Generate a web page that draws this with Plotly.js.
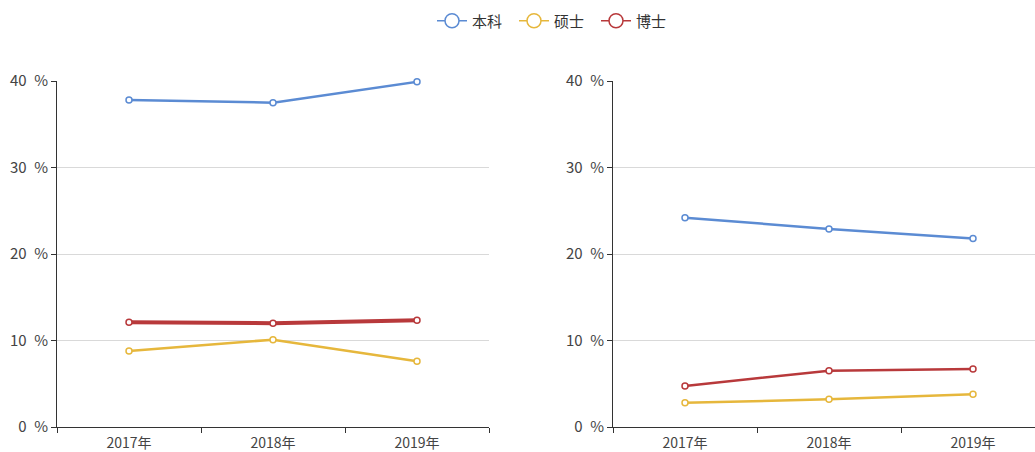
<!DOCTYPE html>
<html>
<head>
<meta charset="utf-8">
<script src="https://cdn.plot.ly/plotly-3.0.1.min.js"></script>
<style>html,body{margin:0;padding:0;overflow:hidden;background:#fff}</style>
</head>
<body>
<div id="chart" style="width:1035px;height:452px"></div>
<script>
var years = ["2017年", "2018年", "2019年"];
var seriesNames = ["本科", "硕士", "博士"];
// Left panel values (%)
var leftBenke = [37.8, 37.5, 39.9];
var leftShuoshi = [8.8, 10.1, 7.6];
var leftBoshi = [12.1, 12.0, 12.35];
// Right panel values (%)
var rightBenke = [24.2, 22.9, 21.8];
var rightShuoshi = [2.8, 3.2, 3.8];
var rightBoshi = [4.75, 6.5, 6.7];
var yTicks = [0, 10, 20, 30, 40];

var colors = ["#5b8bd3", "#e6b73c", "#b8393b"];
var widthsLeft = [2.5, 2.5, 4];
var widthsRight = [2.5, 2.5, 2.5];

function mk(name, vals, i, xa, ya, w) {
  return {
    type: "scatter", mode: "lines+markers", name: name,
    x: years, y: vals, xaxis: xa, yaxis: ya,
    legendgroup: name, showlegend: false, cliponaxis: false,
    line: {color: colors[i], width: w},
    marker: {symbol: "circle", size: 6, color: "#ffffff", line: {color: colors[i], width: 1.5}},
    hoverinfo: "x+y+name"
  };
}

var leftVals = [leftBenke, leftShuoshi, leftBoshi];
var rightVals = [rightBenke, rightShuoshi, rightBoshi];
var data = [];
for (var i = 0; i < 3; i++) data.push(mk(seriesNames[i], leftVals[i], i, "x", "y", widthsLeft[i]));
for (var j = 0; j < 3; j++) data.push(mk(seriesNames[j], rightVals[j], j, "x2", "y2", widthsRight[j]));
// legend entries (no data points drawn)
for (var k = 0; k < 3; k++) {
  data.push({
    type: "scatter", mode: "lines+markers", name: seriesNames[k],
    x: [null], y: [null], xaxis: "x", yaxis: "y",
    legendgroup: seriesNames[k], showlegend: true, hoverinfo: "skip",
    line: {color: colors[k], width: 1.5},
    marker: {symbol: "circle", size: 14, color: "#ffffff", line: {color: colors[k], width: 1.5}}
  });
}

var W = 1035, H = 452;
var yDom = [25 / H, 371 / H];
var fontFam = "'Noto Sans CJK SC', 'Noto Sans', sans-serif";

function xax(dom, range, anchor) {
  return {
    domain: dom, anchor: anchor, type: "category", range: range,
    showline: true, linecolor: "#333", linewidth: 1,
    ticks: "outside", tickson: "boundaries", ticklen: 5, tickcolor: "#333",
    showgrid: false, zeroline: false, ticklabelstandoff: 3,
    tickfont: {size: 14, color: "#444", family: fontFam},
    fixedrange: true
  };
}
function yax(anchor) {
  return {
    domain: yDom, anchor: anchor, range: [0, 40], tickvals: yTicks,
    ticktext: yTicks.map(function (v) { return v + "\u2002%"; }),
    showline: true, linecolor: "#333", linewidth: 1,
    ticks: "outside", ticklen: 5, tickcolor: "#333",
    showgrid: true, gridcolor: "#d9d9d9", gridwidth: 1, zeroline: false,
    tickfont: {size: 15, color: "#444", family: fontFam},
    fixedrange: true
  };
}

var layout = {
  width: W, height: H,
  margin: {l: 0, r: 0, t: 0, b: 0},
  paper_bgcolor: "#fff", plot_bgcolor: "#fff",
  font: {family: fontFam, color: "#333"},
  showlegend: true,
  legend: {
    orientation: "h", x: 432 / W, xanchor: "left", y: 0.99, yanchor: "top",
    font: {size: 15, color: "#333", family: fontFam},
    itemwidth: 30, entrywidth: 37, traceorder: "normal", itemclick: false, itemdoubleclick: false
  },
  xaxis: xax([57 / W, 489 / W], [-0.5, 2.5], "y"),
  yaxis: yax("x"),
  xaxis2: xax([613 / W, 1], [-0.5, 2.5 - 10 / 144], "y2"),
  yaxis2: yax("x2")
};

Plotly.newPlot("chart", data, layout, {displayModeBar: false});
</script>
</body>
</html>
